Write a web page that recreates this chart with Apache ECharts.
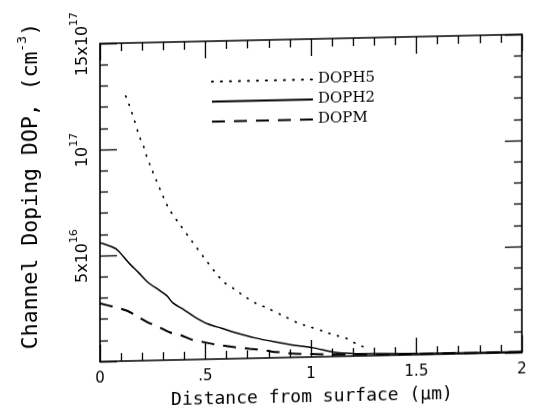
<!DOCTYPE html>
<html>
<head>
<meta charset="utf-8">
<script src="https://cdn.jsdelivr.net/npm/echarts@6/dist/echarts.min.js"></script>
<style>
html,body{margin:0;padding:0;background:#fff;overflow:hidden;}
#c{width:537px;height:411px;transform:skewY(-1.25deg);transform-origin:311px 200px;}
</style>
</head>
<body>
<div id="c"></div>
<script>
// Distance from surface (um)
const h5X = [0.122, 0.134, 0.148, 0.160, 0.186, 0.207, 0.219, 0.240, 0.320, 0.363, 0.576, 0.642, 0.675, 0.742, 0.781, 0.871, 0.942, 0.978, 0.999, 1.057, 1.115, 1.156, 1.172, 1.22, 1.27];
// DOPH5 (x 1e16 cm^-3)
const h5Y = [12.5, 12.2, 11.8, 11.45, 10.6, 10.1, 9.7, 9.15, 7.27, 6.6, 3.73, 3.25, 3.0, 2.57, 2.41, 1.96, 1.60, 1.48, 1.41, 1.21, 1.00, 0.90, 0.82, 0.55, 0.35];

const h2X = [0.0, 0.039, 0.079, 0.110, 0.142, 0.181, 0.229, 0.276, 0.316, 0.347, 0.394, 0.450, 0.512, 0.576, 0.654, 0.734, 0.828, 0.915, 1.01, 1.11, 1.2, 1.3, 1.5, 1.75, 2.0];
const h2Y = [5.6, 5.47, 5.28, 4.94, 4.57, 4.18, 3.68, 3.34, 3.05, 2.68, 2.39, 2.0, 1.66, 1.45, 1.19, 0.96, 0.75, 0.58, 0.43, 0.2, 0.12, 0.09, 0.06, 0.04, 0.03];

const mX = [0.0, 0.063, 0.126, 0.166, 0.229, 0.268, 0.331, 0.379, 0.442, 0.489, 0.552, 0.600, 0.662, 0.710, 0.773, 0.813, 0.875, 0.913, 1.0, 1.1, 1.2, 1.4, 1.7, 2.0];
const mY = [2.75, 2.57, 2.38, 2.16, 1.79, 1.63, 1.31, 1.18, 0.92, 0.82, 0.67, 0.60, 0.51, 0.45, 0.38, 0.30, 0.23, 0.18, 0.14, 0.1, 0.07, 0.04, 0.03, 0.02];

const seriesNames = ['DOPH5', 'DOPH2', 'DOPM'];

const xTickValues = [0, 0.5, 1, 1.5, 2];
const xTickLabels = ['0', '.5', '1', '1.5', '2'];
const yTickValues = [0, 5, 10, 15];
const yTickBase = ['', '5x10', '10', '15x10'];
const yTickExp = ['', '16', '17', '17'];

function zip(a, b) { return a.map((v, i) => [v, b[i]]); }

const black = '#000';

function commonAxis() {
  return {
    axisLine: {show: true, onZero: false, lineStyle: {color: black, width: 1.6}},
    axisTick: {show: true, inside: true, length: 17, interval: 0, lineStyle: {color: black, width: 1.3}},
    minorTick: {show: true, splitNumber: 5, length: 8, lineStyle: {color: black, width: 1.3}},
    splitLine: {show: false},
    minorSplitLine: {show: false}
  };
}

function xAxisCfg(pos, labels) {
  return Object.assign(commonAxis(), {
    type: 'value', min: 0, max: 2, interval: 0.5, position: pos,
    axisLabel: labels ? {
      show: true, margin: 10, color: black, fontFamily: 'DejaVu Sans', fontSize: 15,
      formatter: v => { const i = xTickValues.findIndex(t => Math.abs(t - v) < 1e-9); return i >= 0 ? xTickLabels[i] : ''; }
    } : {show: false}
  });
}
function yAxisCfg(pos, labels) {
  return Object.assign(commonAxis(), {
    type: 'value', min: 0, max: 15, interval: 5, position: pos,
    axisLabel: labels ? {
      show: true, rotate: 90, margin: 9, color: black,
      formatter: v => { const i = yTickValues.indexOf(v); return (i > 0) ? '{b|' + yTickBase[i] + '}{s|' + yTickExp[i] + '}' : ''; },
      rich: {
        b: {fontFamily: 'DejaVu Sans', fontSize: 16, color: black, lineHeight: 22, verticalAlign: 'bottom'},
        s: {fontFamily: 'DejaVu Sans', fontSize: 11, color: black, lineHeight: 10, verticalAlign: 'top'}
      }
    } : {show: false}
  });
}

const chart = echarts.init(document.getElementById('c'));
chart.setOption({
  animation: false,
  backgroundColor: '#fff',
  grid: {left: 100, right: 15, top: 39, bottom: 54, containLabel: false},
  xAxis: [xAxisCfg('bottom', true), xAxisCfg('top', false)],
  yAxis: [yAxisCfg('left', true), yAxisCfg('right', false)],
  legend: {
    orient: 'vertical', left: 206, top: 67, itemWidth: 101, itemHeight: 14, itemGap: 5,
    textStyle: {fontFamily: 'DejaVu Serif', fontSize: 15, color: black},
    itemStyle: {color: 'rgba(0,0,0,0)', borderWidth: 0, opacity: 0},
    data: seriesNames
  },
  graphic: [
    {type: 'text', x: 312, y: 397, style: {text: 'Distance from surface (\u03bcm)', fontFamily: 'DejaVu Sans Mono', fontSize: 18, fill: black, align: 'center', verticalAlign: 'middle'}},
    {type: 'text', x: 29, y: 180, rotation: Math.PI / 2,
     style: {text: '{a|Channel Doping DOP, (cm}{s|-3}{a|)}', align: 'center', verticalAlign: 'middle',
       rich: {
         a: {fontFamily: 'DejaVu Sans Mono', fontSize: 21.5, fill: black, lineHeight: 26, verticalAlign: 'bottom'},
         s: {fontFamily: 'DejaVu Sans Mono', fontSize: 13, fill: black, lineHeight: 12, verticalAlign: 'top'}
       }}}
  ],
  series: [
    {name: seriesNames[0], type: 'line', data: zip(h5X, h5Y), symbol: 'none', smooth: 0.3,
     itemStyle: {color: black},
     lineStyle: {color: black, width: 1.7, type: [1, 8], cap: 'round'}},
    {name: seriesNames[1], type: 'line', data: zip(h2X, h2Y), symbol: 'none', smooth: 0.3,
     itemStyle: {color: black},
     lineStyle: {color: black, width: 1.5, type: 'solid'}},
    {name: seriesNames[2], type: 'line', data: zip(mX, mY), symbol: 'none', smooth: 0.3,
     itemStyle: {color: black},
     lineStyle: {color: black, width: 2, type: [13, 9]}}
  ]
});
</script>
</body>
</html>
